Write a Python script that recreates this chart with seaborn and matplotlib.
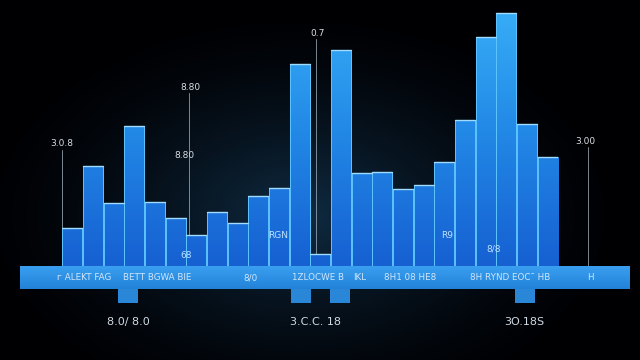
import numpy as np
import pandas as pd
import matplotlib
matplotlib.use("Agg")
import matplotlib.pyplot as plt
import seaborn as sns
from matplotlib.patches import Rectangle
from matplotlib.colors import LinearSegmentedColormap

# ---------------- data ----------------
categories = [f"B{i+1:02d}" for i in range(24)]
values = [38, 100, 63, 140, 64, 48, 31, 54, 43, 70, 78, 202,
          12, 216, 93, 94, 77, 81, 104, 146, 229, 253, 142, 109]
band_texts = ["ᴦ ALEKT FAG", "BETT BGWA BIE", "8/0", "1ZLOCWE B", "IKL",
              "8H1 08 HE8", "8H RYND EOC¯ HB", "H"]
band_text_x = [84, 157, 250, 318, 360, 410, 510, 590]
bottom_labels = ["8.0/ 8.0", "3.C.C. 18", "3O.18S"]
bottom_label_x = [128, 315, 524]
tab_x = [118, 291, 330, 515]
annot_texts = ["3.0.8", "8.80", "8.80", "0.7", "3.00"]
annot_xy = [(62, 144), (190, 87), (184, 155), (318, 33), (585, 141)]
inbar_texts = ["68", "RGN", "R9", "8/8"]
inbar_xy = [(186, 255), (278, 235), (447, 236), (494, 249)]

# ---------------- style ----------------
sns.set_theme(style="dark")
plt.rcParams["font.family"] = ["DejaVu Sans"]

W, H = 640, 360
fig = plt.figure(figsize=(6.4, 3.6), dpi=100)
fig.patch.set_facecolor("black")

# background axes in pixel coordinates
bg = fig.add_axes([0, 0, 1, 1])
bg.set_axis_off()
yy, xx = np.mgrid[0:H, 0:W]
d = np.sqrt(((xx - 300) / 330.0) ** 2 + ((yy - 215) / 210.0) ** 2)
inten = np.clip(1 - d, 0, 1) ** 1.5
c0 = np.array([0.0, 0.0, 0.01])
c1 = np.array([0.06, 0.17, 0.26])
img = c0 + inten[..., None] * (c1 - c0)
bg.imshow(img, extent=[0, W, H, 0], aspect="auto", zorder=0)
bg.set_xlim(0, W)
bg.set_ylim(H, 0)

# leader lines (behind the bars)
lines = [((62, 62), (150, 228)), ((189, 189), (93, 235)),
         ((316, 316), (39, 266)), ((588, 588), (147, 266))]
for xs, ys in lines:
    bg.plot(xs, ys, color="#9aa8b4", lw=0.7, alpha=0.8, zorder=1)

# band
band_cmap = LinearSegmentedColormap.from_list("band", ["#3a9ff0", "#2282d8"])
bgrad = np.linspace(0, 1, 50).reshape(-1, 1)
band = Rectangle((20, 266), 610, 23, facecolor="none", edgecolor="none")
bg.add_patch(band)
bim = bg.imshow(bgrad, extent=[20, 630, 289, 266], aspect="auto", cmap=band_cmap, zorder=2)
bim.set_clip_path(band)
for tx in tab_x:
    bg.add_patch(Rectangle((tx, 289), 20, 14, facecolor="#2a86d6", edgecolor="none", zorder=2))

for t, x in zip(band_texts, band_text_x):
    bg.text(x, 278, t, color="#cfe6fb", fontsize=6.3, ha="center", va="center", zorder=3)
for t, x in zip(bottom_labels, bottom_label_x):
    bg.text(x, 322, t, color="#d0dae4", fontsize=8, ha="center", va="center", zorder=3)

# ---------------- bars ----------------
ax = fig.add_axes([62 / W, (H - 266) / H, (558 - 62) / W, 266 / H])
ax.set_facecolor("none")
df = pd.DataFrame({"cat": categories, "val": values})
sns.barplot(data=df, x="cat", y="val", ax=ax, width=0.97, color="#2a8ee6",
            saturation=1, edgecolor="none")
ax.set_xlim(-0.5, len(categories) - 0.5)
ax.set_ylim(0, 266)
ax.set_axis_off()

bar_cmap = LinearSegmentedColormap.from_list("bar", ["#1660d2", "#2288e6", "#38b0f8"])
vgrad = np.linspace(0, 1, 256).reshape(-1, 1)
for p in ax.patches:
    x0 = p.get_x()
    x1 = x0 + p.get_width()
    im = ax.imshow(vgrad, extent=[x0, x1, 0, 266], origin="lower", aspect="auto",
                   cmap=bar_cmap, zorder=1)
    im.set_clip_path(p)
    p.set_facecolor("none")
    p.set_edgecolor("#5cc4ff")
    p.set_linewidth(0.7)
    p.set_zorder(2)
    h = p.get_height()
    ax.plot([x0, x1], [h, h], color="#9fdcff", lw=1.0, zorder=3)
ax.set_xlim(-0.5, len(categories) - 0.5)
ax.set_ylim(0, 266)

# ---------------- labels (overlay in pixel coords) ----------------
ov = fig.add_axes([0, 0, 1, 1])
ov.set_axis_off()
ov.set_facecolor("none")
ov.set_xlim(0, W)
ov.set_ylim(H, 0)
for t, (x, y) in zip(annot_texts, annot_xy):
    ov.text(x, y, t, color="#d8dde2", fontsize=6.5, ha="center", va="center")
for t, (x, y) in zip(inbar_texts, inbar_xy):
    ov.text(x, y, t, color="#bfe2ff", fontsize=6.5, ha="center", va="center")

fig.savefig("out.png", dpi=100, facecolor=fig.get_facecolor())
